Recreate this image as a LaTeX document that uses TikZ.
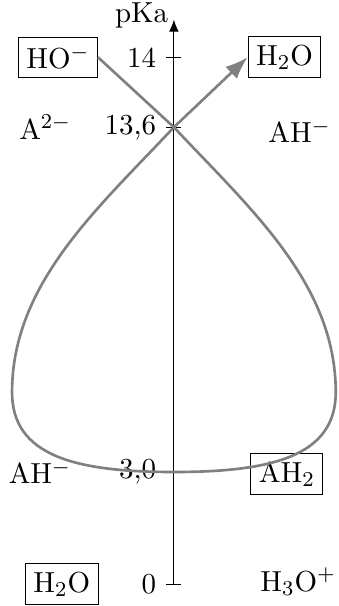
\documentclass[tikz,border=0pt,11pt]{standalone}
\usepackage{xcolor}
\usepackage{tikz}
\usetikzlibrary{positioning,arrows.meta,calc}

\begin{document}
\begin{tikzpicture}[
    box/.style={draw, inner sep=3pt},
    lbl/.style={anchor=east},
    curve/.style={gray, line width=1pt},
]
\useasboundingbox (-2.31,-0.29) rectangle (2.19,7.76);
\def\t{0.1}

\draw[-{Latex[length=1.6mm,width=1.3mm]}] (0,0) -- (0,7.5) coordinate (top);
\node[anchor=east] (pka) at ($(top)+(0.06,0.05)$) {pKa};

\draw (-\t,7) -- (\t,7);
\node[lbl] (l14) at (-\t,7) {14};
\draw (-\t,6.07) -- (\t,6.07);
\node[lbl] (l136) at (-\t,6.07) {13,6};
\draw (-\t,1.49) -- (\t,1.49);
\node[lbl] (l30) at (-\t,1.49) {3,0};
\draw (-\t,0) -- (\t,0);
\node[lbl] (l0) at (-\t,0) {0};

\node[box] (ho) at (-1.54,7.0) {HO$^-$};
\node[box] (eau) at (1.47,7.0) {H$_2$O};
\node (adeux) at (-1.71,6.07) {A$^{2-}$};
\node (ahr) at (1.67,6.02) {AH$^-$};
\node (ahl) at (-1.78,1.49) {AH$^-$};
\node[box] (ahdeux) at (1.50,1.46) {AH$_2$};
\node[box] (eaub) at (-1.49,0.0) {H$_2$O};
\node (hto) at (1.65,0.03) {H$_3$O$^+$};

\coordinate (x) at (0,6.07);
\draw[curve, -{Latex[length=3mm,width=2.2mm]}] (ho.east) -- (x)
    .. controls (1.0,5.0) and (2.15,4.0) .. (2.15,2.55)
    .. controls (2.15,1.7) and (1.3,1.49) .. (0,1.49)
    .. controls (-1.3,1.49) and (-2.15,1.7) .. (-2.15,2.55)
    .. controls (-2.15,4.0) and (-1.0,5.0) .. (x) -- (eau.west);
\end{tikzpicture}
\end{document}
